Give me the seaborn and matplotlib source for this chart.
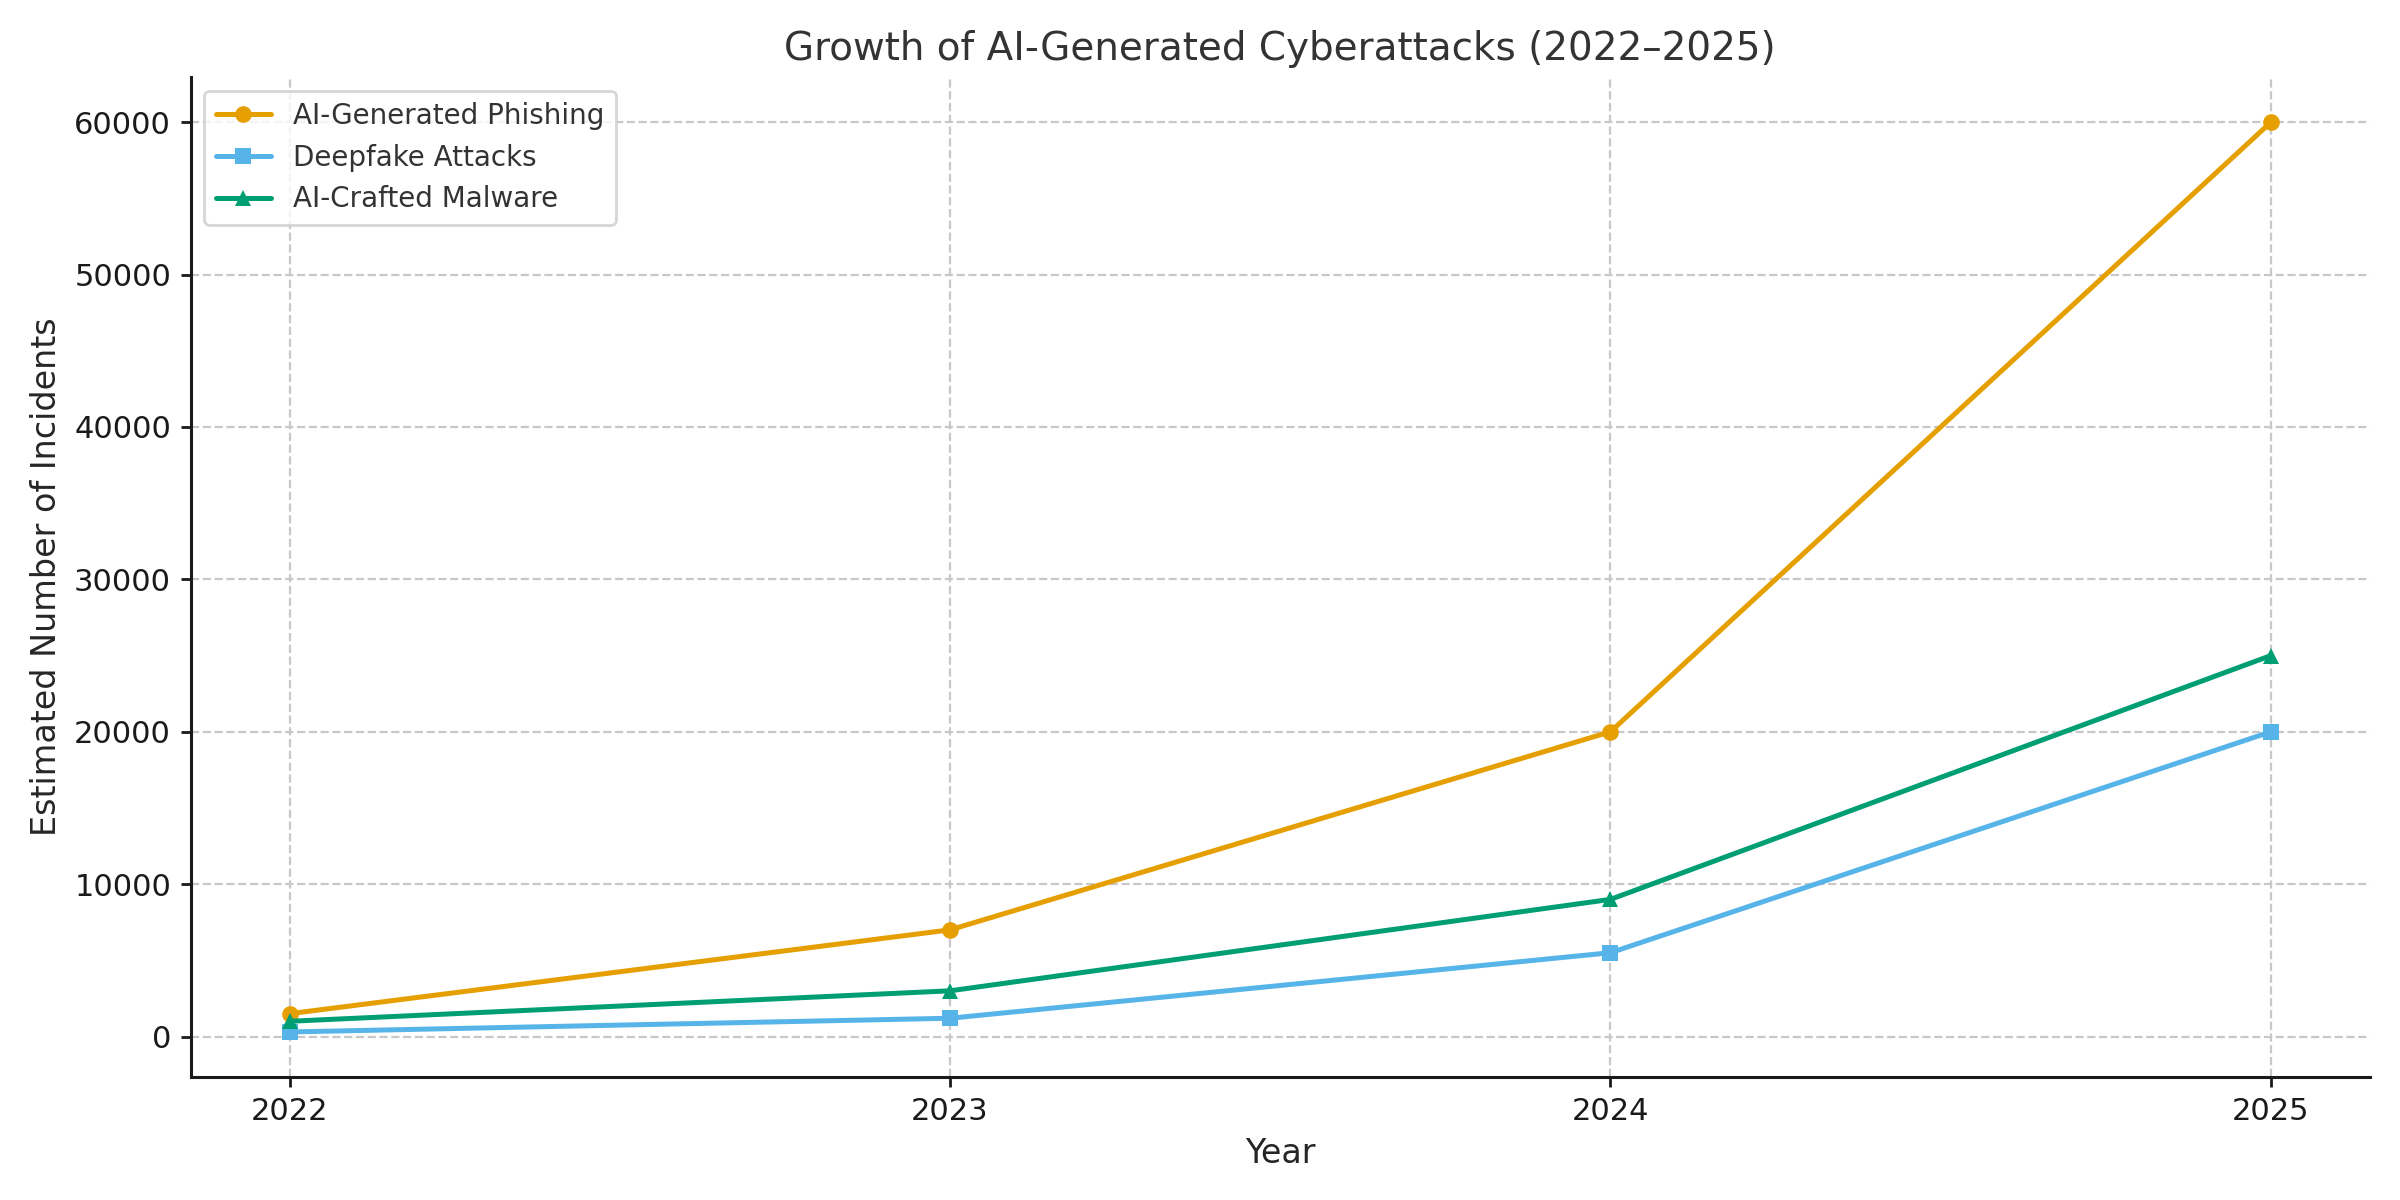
import matplotlib
matplotlib.use("Agg")
import matplotlib.pyplot as plt
import seaborn as sns
import pandas as pd

years = [2022, 2023, 2024, 2025]
phishing = [1500, 7000, 20000, 60000]
deepfake = [300, 1200, 5500, 20000]
malware = [1000, 3000, 9000, 25000]

series_names = ["AI-Generated Phishing", "Deepfake Attacks", "AI-Crafted Malware"]
series_values = [phishing, deepfake, malware]
colors = ["#E69F00", "#56B4E9", "#009E73"]
markers = ["o", "s", "^"]

rows = []
for name, vals in zip(series_names, series_values):
    for y, v in zip(years, vals):
        rows.append({"Year": y, "Incidents": v, "Attack Type": name})
df = pd.DataFrame(rows)

sns.set_style("ticks")
plt.rcParams["font.family"] = ["DejaVu Sans"]

fig, ax = plt.subplots(figsize=(12, 6), dpi=200)
for name, color, marker in zip(series_names, colors, markers):
    sub = df[df["Attack Type"] == name]
    sns.lineplot(data=sub, x="Year", y="Incidents", ax=ax, color=color,
                 marker=marker, markersize=6, markeredgewidth=0, linewidth=1.8,
                 label=name)

ax.grid(True, linestyle="--", color="#c8c8c8", linewidth=0.8)
ax.set_xticks(years)
ax.set_xticklabels([str(y) for y in years])
ax.tick_params(axis="both", labelsize=11, length=3.5, width=1.0,
               color="#1a1a1a", labelcolor="#1a1a1a")
ax.set_title("Growth of AI-Generated Cyberattacks (2022–2025)", fontsize=14, color="#333333")
ax.set_xlabel("Year", fontsize=12, color="#262626")
ax.set_ylabel("Estimated Number of Incidents", fontsize=12, color="#262626")
for s in ["top", "right"]:
    ax.spines[s].set_visible(False)
for s in ["left", "bottom"]:
    ax.spines[s].set_color("#1a1a1a")
    ax.spines[s].set_linewidth(1.1)
leg = ax.legend(loc="upper left", fontsize=10, frameon=True)
leg.get_frame().set_edgecolor("#cccccc")
for t in leg.get_texts():
    t.set_color("#333333")

plt.tight_layout()
plt.savefig("out.png", dpi=200)
plt.close()
